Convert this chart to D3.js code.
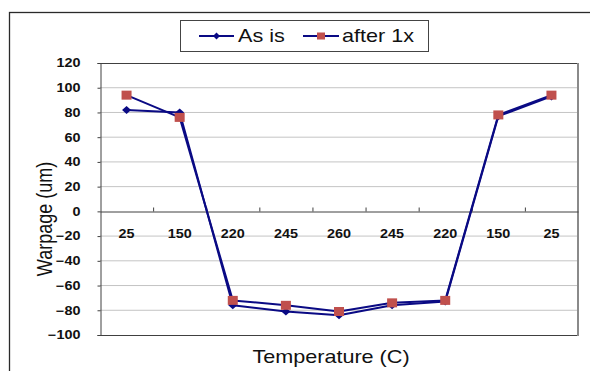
<!DOCTYPE html>
<html>
<head>
<meta charset="utf-8">
<script src="https://cdn.jsdelivr.net/npm/d3@7"></script>
<style>
  html, body { margin: 0; padding: 0; background: #fff; }
  svg { display: block; font-family: "Liberation Sans", Arial, sans-serif; }
</style>
</head>
<body>
<svg id="chart" width="590" height="371"></svg>
<script>
// Temperature steps of the reflow profile (up and back down)
const categories = ["25", "150", "220", "245", "260", "245", "220", "150", "25"];
// Warpage readings in um
const asIs = [82, 80, -76, -81, -84, -76, -73, 77, 93];
const after1x = [94, 76, -72, -76, -81, -74, -72, 78, 94];
const yTicks = [-100, -80, -60, -40, -20, 0, 20, 40, 60, 80, 100, 120];
const seriesNames = ["As is", "after 1x"];

const SX = 1.2;            // horizontal widening applied to all text
const navy = "#0a0a84";
const squareFill = "#c0504d";

const svg = d3.select("#chart");
const plotLeft = 100, plotRight = 578, plotTop = 63, plotBottom = 335;

const x = d3.scaleBand().domain(d3.range(categories.length)).range([plotLeft, plotRight]).padding(0);
const y = d3.scaleLinear().domain([-100, 120]).range([plotBottom, plotTop]);
const cx = i => x(i) + x.bandwidth() / 2;

// outer chart frame
svg.append("rect")
  .attr("x", 9.5).attr("y", 12.5).attr("width", 600).attr("height", 400)
  .attr("fill", "none").attr("stroke", "#2a2a2a").attr("stroke-width", 1.3);

// horizontal gridlines
svg.append("g").selectAll("line")
  .data(yTicks.filter(v => v !== 0 && v !== 120 && v !== -100))
  .join("line")
  .attr("x1", plotLeft).attr("x2", plotRight)
  .attr("y1", d => y(d)).attr("y2", d => y(d))
  .attr("stroke", "#c4c4c4").attr("stroke-width", 1);

// plot area border
svg.append("line").attr("x1", plotLeft).attr("x2", plotRight).attr("y1", plotTop + 0.5).attr("y2", plotTop + 0.5)
  .attr("stroke", "#404040").attr("stroke-width", 1);
svg.append("line").attr("x1", plotLeft).attr("x2", plotRight).attr("y1", plotBottom + 0.5).attr("y2", plotBottom + 0.5)
  .attr("stroke", "#404040").attr("stroke-width", 1);
svg.append("line").attr("x1", plotRight).attr("x2", plotRight).attr("y1", plotTop).attr("y2", plotBottom + 1)
  .attr("stroke", "#8a8a8a").attr("stroke-width", 2);

// y axis
const yAxis = svg.append("g")
  .attr("transform", `translate(${plotLeft + 0.5},0)`)
  .call(d3.axisLeft(y).tickValues(yTicks).tickSize(3).tickFormat(d3.format("d")));
yAxis.select(".domain").attr("stroke", "#404040");
yAxis.selectAll(".tick line").attr("stroke", "#404040");
yAxis.selectAll(".tick text")
  .attr("x", 0)
  .attr("transform", "translate(-20,0) scale(" + SX + ",1)")
  .attr("font-size", 12).attr("font-weight", "bold").attr("fill", "#111")
  .attr("font-family", "'Liberation Sans', Arial, sans-serif");

// x axis along zero, labels below the line
const xAxis = svg.append("g")
  .attr("transform", `translate(0,${Math.round(y(0)) + 0.5})`)
  .call(d3.axisBottom(x).tickSize(0).tickPadding(18).tickFormat(i => categories[i]));
xAxis.select(".domain").attr("stroke", "#404040");
xAxis.selectAll(".tick text")
  .attr("transform", "scale(" + SX + ",1)")
  .attr("font-size", 12).attr("font-weight", "bold").attr("fill", "#111")
  .attr("font-family", "'Liberation Sans', Arial, sans-serif");
// tick marks at category boundaries, pointing up
xAxis.append("g").selectAll("line")
  .data(d3.range(1, categories.length))
  .join("line")
  .attr("x1", i => x(i) + 0.5).attr("x2", i => x(i) + 0.5)
  .attr("y1", 0).attr("y2", -4)
  .attr("stroke", "#404040");

// series lines
const line = d3.line().x((d, i) => cx(i)).y(d => y(d));
[asIs, after1x].forEach(s => {
  svg.append("path").datum(s)
    .attr("d", line)
    .attr("fill", "none").attr("stroke", navy).attr("stroke-width", 2)
    .attr("stroke-linejoin", "round");
});

// diamond markers
const diamond = (w, h) => `M0,${-h / 2}L${w / 2},0L0,${h / 2}L${-w / 2},0Z`;
svg.append("g").selectAll("path")
  .data(asIs).join("path")
  .attr("transform", (d, i) => `translate(${cx(i)},${y(d)})`)
  .attr("d", diamond(9, 8))
  .attr("fill", navy);

// square markers
svg.append("g").selectAll("rect")
  .data(after1x).join("rect")
  .attr("x", (d, i) => cx(i) - 5).attr("y", d => y(d) - 4.5)
  .attr("width", 10).attr("height", 9)
  .attr("fill", squareFill);

// stretched text helper
function label(g, str, tx, ty, opts) {
  const t = g.append("g").attr("transform", `translate(${tx},${ty}) ${opts.rotate ? "rotate(-90) scale(1," + SX + ")" : "scale(" + SX + ",1)"}`)
    .append("text")
    .attr("text-anchor", opts.anchor || "start")
    .attr("font-size", opts.size)
    .attr("fill", "#111")
    .text(str);
  if (opts.weight) t.attr("font-weight", opts.weight);
  return t;
}

// axis titles
label(svg, "Temperature (C)", 331, 363, { size: 18, anchor: "middle" });
label(svg, "Warpage (um)", 52, 219, { size: 18, anchor: "middle", rotate: true });

// legend
const lg = svg.append("g");
lg.append("rect").attr("x", 180.5).attr("y", 20.5).attr("width", 248).attr("height", 31)
  .attr("fill", "#fff").attr("stroke", "#444").attr("stroke-width", 1);
const legendItems = [
  { name: seriesNames[0], x0: 199, x1: 234, tx: 238, kind: "diamond" },
  { name: seriesNames[1], x0: 303, x1: 339, tx: 342, kind: "square" }
];
legendItems.forEach(it => {
  const ly = 36;
  lg.append("line").attr("x1", it.x0).attr("x2", it.x1).attr("y1", ly).attr("y2", ly)
    .attr("stroke", navy).attr("stroke-width", 2);
  const mx = (it.x0 + it.x1) / 2;
  if (it.kind === "diamond") {
    lg.append("path").attr("transform", `translate(${mx},${ly})`).attr("d", diamond(7, 7)).attr("fill", navy);
  } else {
    lg.append("rect").attr("x", mx - 4).attr("y", ly - 3.5).attr("width", 8).attr("height", 7).attr("fill", squareFill);
  }
  label(lg, it.name, it.tx, 42, { size: 18 });
});
</script>
</body>
</html>
